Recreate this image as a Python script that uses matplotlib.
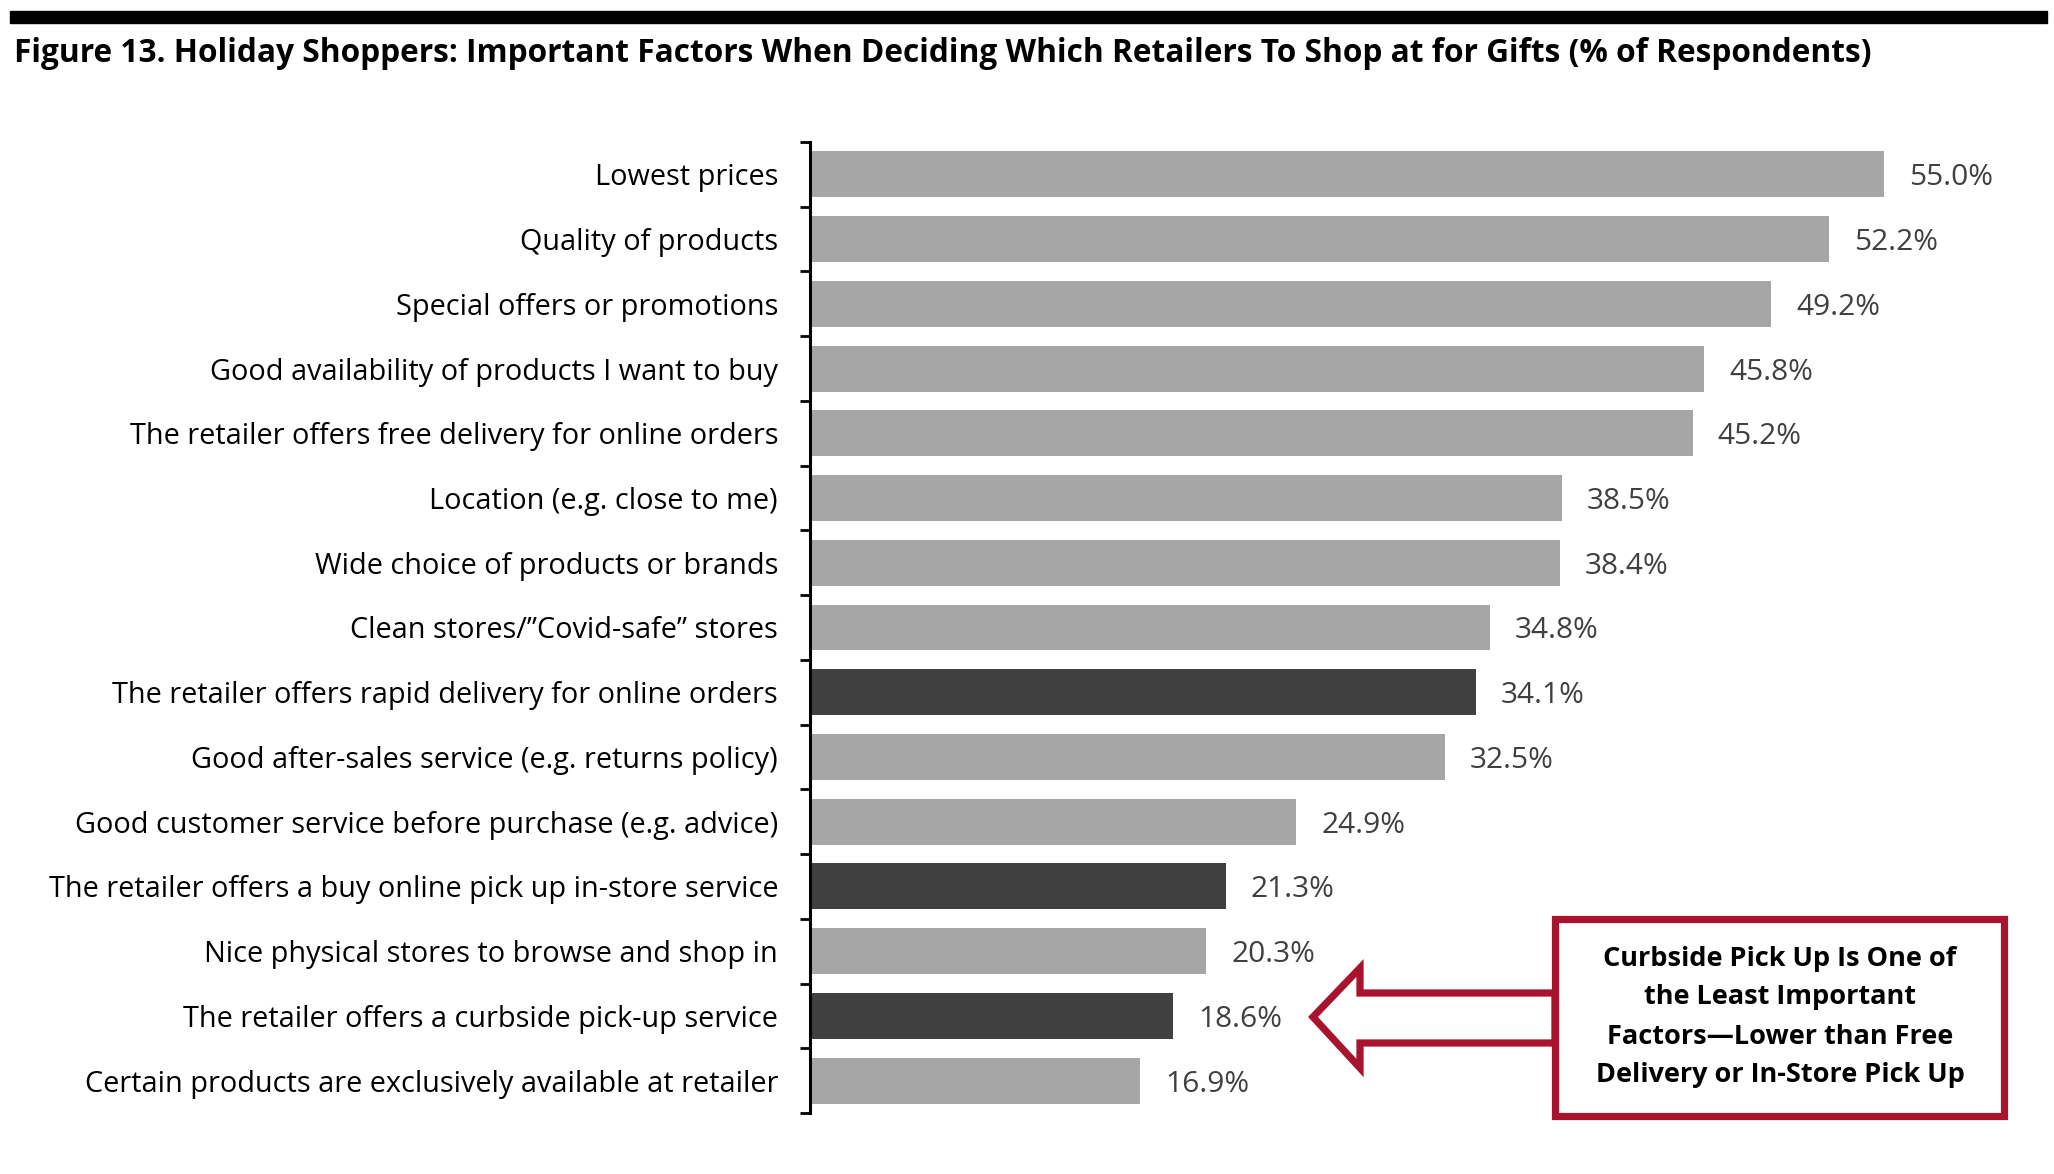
import matplotlib.pyplot as plt
from matplotlib.patches import Rectangle, Polygon

# data, top to bottom
factors = ["Lowest prices", "Quality of products", "Special offers or promotions",
           "Good availability of products I want to buy",
           "The retailer offers free delivery for online orders",
           "Location (e.g. close to me)", "Wide choice of products or brands",
           "Clean stores/\u201dCovid-safe\u201d stores",
           "The retailer offers rapid delivery for online orders",
           "Good after-sales service (e.g. returns policy)",
           "Good customer service before purchase (e.g. advice)",
           "The retailer offers a buy online pick up in-store service",
           "Nice physical stores to browse and shop in",
           "The retailer offers a curbside pick-up service",
           "Certain products are exclusively available at retailer"]
shares = [55.0, 52.2, 49.2, 45.8, 45.2, 38.5, 38.4, 34.8, 34.1, 32.5, 24.9, 21.3, 20.3, 18.6, 16.9]
highlight = [False, False, False, False, False, False, False, False, True,
             False, False, True, False, True, False]

LIGHT = "#a6a6a6"
DARK = "#404040"
RED = "#a8132e"
W, H = 2054, 1174

plt.rcParams['font.family'] = ['Open Sans', 'DejaVu Sans']
fig = plt.figure(figsize=(W / 100, H / 100), dpi=100)

# axes placed in pixel terms of the original
x0, x1 = 810, 810 + 60 * 19.53
y_top, y_bot = 142, 1113
ax = fig.add_axes([x0 / W, 1 - y_bot / H, (x1 - x0) / W, (y_bot - y_top) / H])

ypos = list(range(len(factors)))
colors = [DARK if h else LIGHT for h in highlight]
ax.barh(ypos, shares, height=0.71, color=colors)
for i, v in zip(ypos, shares):
    ax.annotate(f"{v:.1f}%", xy=(v, i), xytext=(18, -2.5), textcoords='offset points',
                va='center', ha='left', fontsize=21.5, color="#404040")

ax.set_xlim(0, 60)
ax.set_ylim(len(factors) - 0.5, -0.5)
ax.set_yticks(ypos)
ax.set_yticklabels(factors, fontsize=20.8)
ax.set_yticks([i - 0.5 for i in range(len(factors) + 1)], minor=True)
ax.tick_params(axis='y', which='major', length=0, pad=23)
ax.tick_params(axis='y', which='minor', length=7, width=2, direction='out')
ax.set_xticks([])
for s in ['top', 'right', 'bottom']:
    ax.spines[s].set_visible(False)
ax.spines['left'].set_linewidth(2.2)


def fp(x, y):
    return (x / W, 1 - y / H)


# header bar + title
fig.patches.append(Rectangle(fp(10, 23), 2037 / W, 12 / H,
                             transform=fig.transFigure, color="black"))
fig.text(14 / W, 1 - 62 / H,
         "Figure 13. Holiday Shoppers: Important Factors When Deciding Which Retailers To Shop at for Gifts (% of Respondents)",
         fontsize=22.8, fontweight='bold', va='baseline', ha='left')

# callout arrow and box
arrow_pts = [fp(1313, 1017), fp(1360, 968), fp(1360, 993), fp(1555, 993),
             fp(1555, 1043), fp(1360, 1043), fp(1360, 1068)]
fig.patches.append(Polygon(arrow_pts, closed=True, transform=fig.transFigure,
                           facecolor="white", edgecolor=RED, linewidth=5.2,
                           joinstyle='miter'))
fig.patches.append(Rectangle(fp(1555, 1116), (2004 - 1555) / W, (1116 - 919) / H,
                             transform=fig.transFigure, facecolor="white",
                             edgecolor=RED, linewidth=5.2, joinstyle='miter'))
fig.text(1780 / W, 1 - 1017 / H,
         "Curbside Pick Up Is One of\nthe Least Important\nFactors\u2014Lower than Free\nDelivery or In-Store Pick Up",
         ha='center', va='center', fontsize=19.5, fontweight='bold',
         linespacing=1.65)

fig.savefig("out.png", dpi=100)
